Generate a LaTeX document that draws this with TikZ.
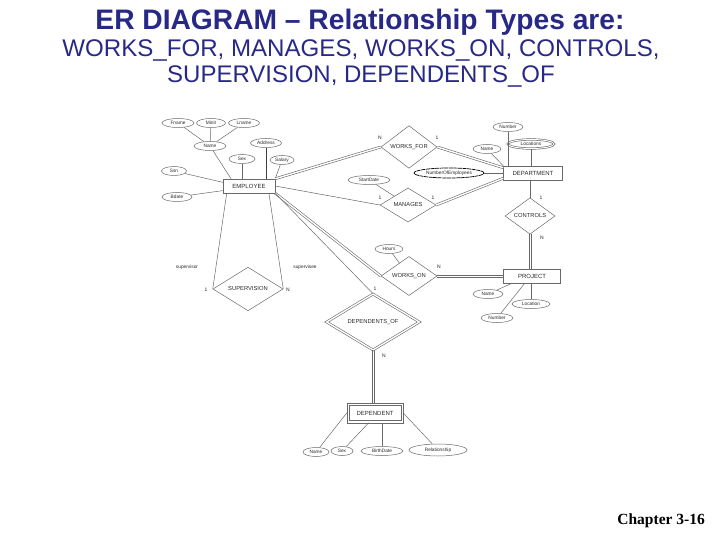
\documentclass[tikz,border=0pt]{standalone}
\usepackage{fontspec}
\setmainfont{Liberation Sans}
\newfontfamily\chapfont{Liberation Serif}
\usetikzlibrary{shapes.geometric,calc}

\definecolor{titleblue}{RGB}{40,40,135}
\definecolor{erline}{RGB}{105,105,105}
\definecolor{ertext}{RGB}{40,40,40}

\begin{document}
\begin{tikzpicture}[x=1pt, y=-1pt,
    every node/.style={inner sep=0pt, text=ertext},
    entity/.style={draw=erline, line width=0.5pt, rectangle, minimum width=52, minimum height=14,
        font=\fontsize{6}{7}\selectfont},
    rel/.style={draw=erline, line width=0.5pt, diamond, minimum width=56, minimum height=34,
        font=\fontsize{5.8}{7}\selectfont},
    weakrel/.style={rel, line width=0.6pt, double=white, double distance=1.4pt},
    attr/.style={draw=erline, line width=0.5pt, ellipse, minimum width=30, minimum height=9,
        font=\fontsize{4.8}{6}\selectfont},
    multiattr/.style={attr, line width=0.6pt, double=white, double distance=1pt},
    derivedattr/.style={attr, draw=black, line width=0.7pt, dash pattern=on 4pt off 0.6pt},
    card/.style={font=\fontsize{5}{6}\selectfont},
    role/.style={font=\fontsize{4.8}{6}\selectfont},
    link/.style={draw=erline, line width=0.5pt},
    total/.style={draw=erline, line width=0.6pt, double=white, double distance=1.4pt},
    headline/.style={anchor=base, text=titleblue}
]
    \useasboundingbox (0,0) rectangle (720,540);

    % Heading
    \node[headline, font=\bfseries\fontsize{28.2}{30}\selectfont] (title) at (360,30)
        {ER DIAGRAM -- Relationship Types are:};
    \node[headline, font=\fontsize{24.1}{26}\selectfont] (sub1) at (361,57)
        {WORKS\_FOR, MANAGES, WORKS\_ON, CONTROLS,};
    \node[headline, font=\fontsize{24}{26}\selectfont] (sub2) at (361,83)
        {SUPERVISION, DEPENDENTS\_OF};

    % Entities
    \node[entity] (emp) at (249,186) {EMPLOYEE};
    \node[entity, minimum width=59] (dept) at (533,173) {DEPARTMENT};
    \node[entity, minimum width=57] (proj) at (532,276) {PROJECT};
    \node[entity, minimum width=52, minimum height=15] (dep) at (375,413) {DEPENDENT};
    \draw[link] ([shift={(-2pt,-2pt)}]dep.south west) rectangle ([shift={(2pt,2pt)}]dep.north east);

    % Relationships
    \node[rel] (wf) at (409,147) {WORKS\_FOR};
    \node[rel] (man) at (408,205) {MANAGES};
    \node[rel, minimum width=50, minimum height=33] (ctrl) at (530,216) {CONTROLS};
    \node[rel] (won) at (409,276) {WORKS\_ON};
    \node[rel, minimum width=70, minimum height=43] (sup) at (248,289) {SUPERVISION};
    \node[weakrel, minimum width=93, minimum height=49] (depof) at (373,322) {DEPENDENTS\_OF};

    % EMPLOYEE attributes
    \node[attr, minimum width=32] (fname) at (178,123) {Fname};
    \node[attr, minimum width=29] (minit) at (211,123) {Minit};
    \node[attr, minimum width=31] (lname) at (244,123) {Lname};
    \node[attr, minimum width=32] (ename) at (210,146) {Name};
    \node[attr, minimum width=31] (addr) at (266,143) {Address};
    \node[attr, minimum width=26] (esex) at (242,159) {Sex};
    \node[attr, minimum width=24] (salary) at (282,160) {Salary};
    \node[attr, minimum width=25] (ssn) at (174,171) {Ssn};
    \node[attr, minimum width=30] (bdate) at (177,197) {Bdate};

    % DEPARTMENT attributes
    \node[attr] (dnum) at (508,127) {Number};
    \node[attr, minimum width=28] (dname) at (487,149) {Name};
    \node[multiattr, minimum width=46] (dloc) at (531,144) {Locations};
    \node[derivedattr, minimum width=70, minimum height=10] (noe) at (449,173) {NumberOfEmployees};

    % PROJECT attributes
    \node[attr] (pname) at (488,294) {Name};
    \node[attr, minimum width=38] (ploc) at (531,304) {Location};
    \node[attr, minimum width=32] (pnum) at (497,318) {Number};

    % relationship attributes
    \node[attr, minimum width=42] (sdate) at (369,180) {StartDate};
    \node[attr, minimum width=28] (hours) at (389,249) {Hours};

    % DEPENDENT attributes
    \node[attr, minimum width=26] (dpname) at (316,452) {Name};
    \node[attr, minimum width=22] (dpsex) at (342,451) {Sex};
    \node[attr, minimum width=42] (dpbd) at (382,451) {BirthDate};
    \node[attr, minimum width=58, minimum height=12] (dprel) at (438,450) {Relationship};

    % Attribute links
    \draw[link] (fname) -- (ename);
    \draw[link] (minit) -- (ename);
    \draw[link] (lname) -- (ename);
    \draw[link] (ename) -- (emp.158);
    \draw[link] (esex) -- (esex |- emp.north);
    \draw[draw=black!75, line width=0.8pt] (addr) -- (addr |- emp.north);
    \draw[link] (salary) -- (emp.north east);
    \draw[link] (ssn) -- (emp.172);
    \draw[link] (bdate) -- (emp.190);
    \draw[link] (dnum) -- (dnum |- dept.north);
    \draw[link] (dname) -- (dept.north west);
    \draw[link] (dloc) -- (dloc |- dept.north);
    \draw[link] (noe) -- (noe -| dept.west);
    \draw[link] (pname) -- (proj.200);
    \draw[link] (pnum) -- (proj.225);
    \draw[link] (ploc) -- (ploc |- proj.south);
    \draw[link] (sdate) -- (man);
    \draw[link] (hours) -- (won);
    \draw[link] (dpname) -- ([xshift=-2pt]dep.west);
    \draw[link] (dpsex) -- ([yshift=-2pt]dep.231);
    \draw[link] (dpbd) -- ([yshift=-2pt]dpbd |- dep.south);
    \draw[link] (dprel) -- ([xshift=2pt]dep.east);

    % Relationship links
    \draw[total] (emp.north east) -- (wf.west);
    \draw[total] (wf.east) -- (dept.170);
    \draw[link] (emp.east) -- (man.west);
    \draw[total] (man.east) -- (dept.190);
    \draw[link] (ctrl.north |- dept.south) -- (ctrl.north);
    \draw[link, transform canvas={xshift=-1pt}] (ctrl.south) -- (ctrl.south |- proj.north);
    \draw[link, transform canvas={xshift=1pt}] (ctrl.south) -- (ctrl.south |- proj.north);
    \draw[total] (emp.south east) -- (won.west);
    \draw[link, transform canvas={yshift=-1pt}] (won.east) -- (proj.west);
    \draw[link, transform canvas={yshift=1pt}] (won.east) -- (proj.west);
    \draw[link] (emp.south east) -- (depof.north);
    \draw[link, transform canvas={xshift=-1pt}] (depof.south) -- ([yshift=2pt]depof.south |- dep.north);
    \draw[link, transform canvas={xshift=1pt}] (depof.south) -- ([yshift=2pt]depof.south |- dep.north);
    \draw[link] (emp.198) -- (sup.west);
    \draw[link] (emp.340) -- (sup.east);

    % Cardinalities and roles
    \node[card] (wfn) at (380,138) {N};
    \node[card] (wf1) at (437,138) {1};
    \node[card] (man1a) at (380,198) {1};
    \node[card] (man1b) at (433,198) {1};
    \node[card] (ctrl1) at (541,198) {1};
    \node[card] (ctrln) at (542,238) {N};
    \node[card] (wonn) at (439,267) {N};
    \node[card] (depof1) at (375,289) {1};
    \node[card] (depofn) at (384,356) {N};
    \node[card] (sup1) at (206,290) {1};
    \node[card] (supn) at (288,290) {N};
    \node[role] (supvr) at (187,267) {supervisor};
    \node[role] (supvee) at (305,267) {supervisee};

    % Footer
    \node[anchor=base east, text=black, font=\chapfont\bfseries\fontsize{15.5}{18}\selectfont]
        (chap) at (705,524) {Chapter 3-16};
\end{tikzpicture}
\end{document}
